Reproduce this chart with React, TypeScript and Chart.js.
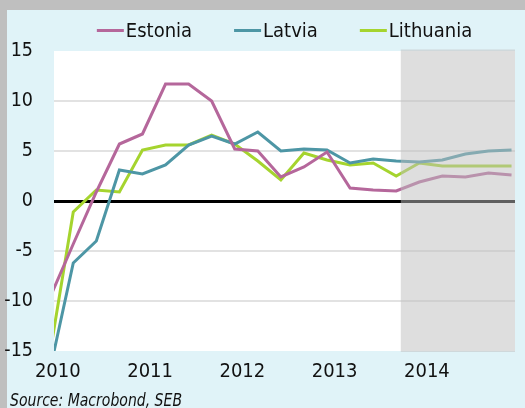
import React, { useEffect, useRef } from "react";
import { Chart, registerables } from "chart.js";

Chart.register(...registerables);

// Quarterly GDP growth, % y/y (2009Q4 .. 2014Q4); 2013Q4 onwards is forecast
const quarters = [
  "2009Q4", "2010Q1", "2010Q2", "2010Q3", "2010Q4",
  "2011Q1", "2011Q2", "2011Q3", "2011Q4",
  "2012Q1", "2012Q2", "2012Q3", "2012Q4",
  "2013Q1", "2013Q2", "2013Q3", "2013Q4",
  "2014Q1", "2014Q2", "2014Q3", "2014Q4",
];
const estonia = [-9.6, -4.3, 0.9, 5.7, 6.7, 11.7, 11.7, 10.0, 5.2, 5.0, 2.4, 3.4, 4.9, 1.3, 1.1, 1.0, 1.9, 2.5, 2.4, 2.8, 2.6];
const latvia = [-16.8, -6.2, -4.0, 3.1, 2.7, 3.6, 5.6, 6.5, 5.7, 6.9, 5.0, 5.2, 5.1, 3.8, 4.2, 4.0, 3.9, 4.1, 4.7, 5.0, 5.1];
const lithuania = [-15.1, -1.1, 1.1, 0.9, 5.1, 5.6, 5.6, 6.6, 5.7, 4.0, 2.1, 4.8, 4.1, 3.6, 3.8, 2.5, 3.8, 3.5, 3.5, 3.5, 3.5];

const seriesNames = ["Estonia", "Latvia", "Lithuania"];
const seriesColors = ["#b5679b", "#4d96a5", "#a5d42e"];
const yearLabels = ["2010", "2011", "2012", "2013", "2014"];
const yMin = -15;
const yMax = 15;
const yStep = 5;
const forecastStartQuarter = "2013Q3";
const sourceText = "Source: Macrobond, SEB";

const FONT = "'DejaVu Sans Condensed', 'DejaVu Sans', sans-serif";

export default function App() {
  const ref = useRef<HTMLCanvasElement | null>(null);

  useEffect(() => {
    const canvas = ref.current;
    if (!canvas) return;
    const toPoints = (arr: number[]) => arr.map((v, i) => ({ x: i, y: v }));
    const forecastX = quarters.indexOf(forecastStartQuarter) + 0.2;

    const bgPlugin = {
      id: "bg",
      beforeDraw(chart: any) {
        const { ctx, width, height, chartArea } = chart;
        ctx.save();
        ctx.fillStyle = "#bfbfbf";
        ctx.fillRect(0, 0, width, height);
        ctx.fillStyle = "#e0f3f8";
        ctx.fillRect(7, 10, width - 7, height - 10);
        ctx.fillStyle = "#ffffff";
        ctx.fillRect(chartArea.left, chartArea.top, chartArea.right - chartArea.left, chartArea.bottom - chartArea.top);
        ctx.restore();
      },
      afterDatasetsDraw(chart: any) {
        const { ctx, chartArea } = chart;
        const x0 = chart.scales.x.getPixelForValue(forecastX);
        ctx.save();
        ctx.fillStyle = "rgba(190,190,190,0.5)";
        ctx.fillRect(x0, chartArea.top - 1.5, chartArea.right - x0, chartArea.bottom - chartArea.top + 2.5);
        ctx.restore();
      },
      afterDraw(chart: any) {
        const { ctx, chartArea, height } = chart;
        ctx.save();
        // legend
        ctx.font = `20px ${FONT}`;
        ctx.textBaseline = "alphabetic";
        const lineLen = 27;
        const lineGap = 2;
        const itemGap = 42;
        const widths = seriesNames.map((n) => ctx.measureText(n).width);
        const total = widths.reduce((a, w) => a + lineLen + lineGap + w, 0) + itemGap * (seriesNames.length - 1);
        let x = (chartArea.left + chartArea.right) / 2 - total / 2;
        const ly = 30.5;
        seriesNames.forEach((n, i) => {
          ctx.strokeStyle = seriesColors[i];
          ctx.lineWidth = 3;
          ctx.beginPath();
          ctx.moveTo(x, ly);
          ctx.lineTo(x + lineLen, ly);
          ctx.stroke();
          ctx.fillStyle = "#111";
          ctx.fillText(n, x + lineLen + lineGap, 36.5);
          x += lineLen + lineGap + widths[i] + itemGap;
        });
        // source (condensed italic)
        ctx.font = `italic 18.5px ${FONT}`;
        ctx.fillStyle = "#111";
        const sw = ctx.measureText(sourceText).width;
        const sx = Math.min(1, 172 / sw);
        ctx.translate(10, height - 2.5);
        ctx.scale(sx, 1);
        ctx.fillText(sourceText, 0, 0);
        ctx.restore();
      },
    };

    const chart = new Chart(canvas, {
      type: "line",
      data: {
        datasets: [estonia, latvia, lithuania].map((arr, i) => ({
          label: seriesNames[i],
          data: toPoints(arr),
          borderColor: seriesColors[i],
          backgroundColor: seriesColors[i],
          borderWidth: 3,
          pointRadius: 0,
          tension: 0,
          fill: false,
        })),
      },
      options: {
        animation: false,
        responsive: false,
        devicePixelRatio: 1,
        layout: { padding: { left: 0, right: 10, top: 51, bottom: 0 } },
        plugins: { legend: { display: false }, tooltip: { enabled: false } },
        scales: {
          x: {
            type: "linear",
            min: 0.165,
            max: 20.15,
            afterBuildTicks: (scale: any) => {
              scale.ticks = yearLabels.map((_, i) => ({ value: 0.33 + 4 * i }));
            },
            afterFit: (scale: any) => {
              scale.height = 57;
            },
            grid: { display: false, drawTicks: false },
            border: { display: false },
            ticks: {
              autoSkip: false,
              maxRotation: 0,
              padding: 9,
              color: "#111",
              font: { family: FONT, size: 20 },
              callback: (_v: any, i: number) => yearLabels[i],
            },
          },
          y: {
            min: yMin,
            max: yMax,
            afterFit: (scale: any) => {
              scale.width = 54;
            },
            grid: {
              drawTicks: false,
              color: (c: any) =>
                c.tick && c.tick.value === 0
                  ? "#000"
                  : c.tick && (c.tick.value === yMin || c.tick.value === yMax)
                  ? "rgba(0,0,0,0)"
                  : "#e2e2e2",
              lineWidth: (c: any) => (c.tick && c.tick.value === 0 ? 3 : 2),
            },
            border: { display: false },
            ticks: {
              stepSize: yStep,
              padding: 21,
              color: "#111",
              font: { family: FONT, size: 19.5 },
            },
          },
        },
      },
      plugins: [bgPlugin],
    } as any);

    return () => chart.destroy();
  }, []);

  return (
    <div style={{ position: "fixed", left: 0, top: 0, width: 525, height: 408 }}>
      <canvas ref={ref} width={525} height={408} style={{ display: "block", width: 525, height: 408 }} />
    </div>
  );
}
